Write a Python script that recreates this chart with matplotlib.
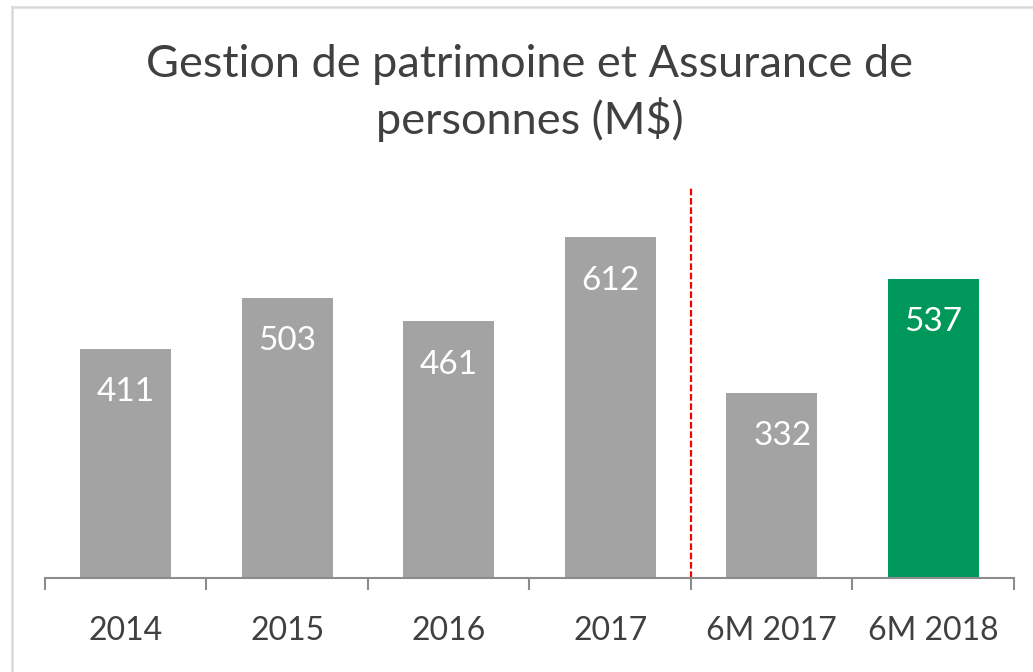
import matplotlib
matplotlib.use('Agg')
import matplotlib.pyplot as plt
from matplotlib.lines import Line2D

categories = ['2014', '2015', '2016', '2017', '6M 2017', '6M 2018']
values = [411, 503, 461, 612, 332, 537]
bar_colors = ['#A3A3A3', '#A3A3A3', '#A3A3A3', '#A3A3A3', '#A3A3A3', '#00985A']
title = 'Gestion de patrimoine et Assurance de\npersonnes (M$)'

W, H = 1033, 672
TEXT = '#404040'
AXIS = '#8C8C8C'

plt.rcParams['font.family'] = ['Lato', 'DejaVu Sans']

fig = plt.figure(figsize=(W / 100, H / 100), dpi=100)
ax = fig.add_axes([45 / W, (H - 578) / H, (1014 - 45) / W, (578 - 188.5) / H])

x = list(range(len(categories)))
ax.bar(x, values, width=0.565, color=bar_colors)
ax.set_xlim(-0.5, len(categories) - 0.5)
ax.set_ylim(0, 700)

# value labels inside the bars (the 6M 2017 one sits a bit to the right)
nudge = {4: 8}
for i, v in enumerate(values):
    ax.annotate(str(v), (i, v), xytext=(nudge.get(i, 0), -37.5), textcoords='offset points',
                ha='center', va='baseline', color='white', fontsize=24)

# separator between annual and half-year figures
ax.axvline(3.5, ymin=0, ymax=1, color='#FF0000', lw=1.6, ls=(0, (3, 1.2)))

for side in ['top', 'right', 'left']:
    ax.spines[side].set_visible(False)
ax.spines['bottom'].set_color(AXIS)
ax.spines['bottom'].set_linewidth(1.5)
ax.set_yticks([])

ax.set_xticks(x)
ax.set_xticklabels(categories, fontsize=23, color=TEXT)
ax.set_xticks([i - 0.5 for i in range(len(categories) + 1)], minor=True)
ax.tick_params(axis='x', which='major', length=0, pad=44.5)
ax.tick_params(axis='x', which='minor', length=8.5, width=1.5, color=AXIS)
for lbl in ax.get_xticklabels():
    lbl.set_va('baseline')

fig.text((45 + 1014) / 2 / W, 1 - 44 / H, title, ha='center', va='top',
         fontsize=32.5, color=TEXT, linespacing=1.32)

# light frame around the chart area
fig.add_artist(Line2D([12 / W, 12 / W], [0, 1 - 7 / H], color='#D9D9D9', lw=1.8))
fig.add_artist(Line2D([12 / W, 1], [1 - 7 / H, 1 - 7 / H], color='#D9D9D9', lw=1.8))

fig.savefig('out.png', dpi=100)
